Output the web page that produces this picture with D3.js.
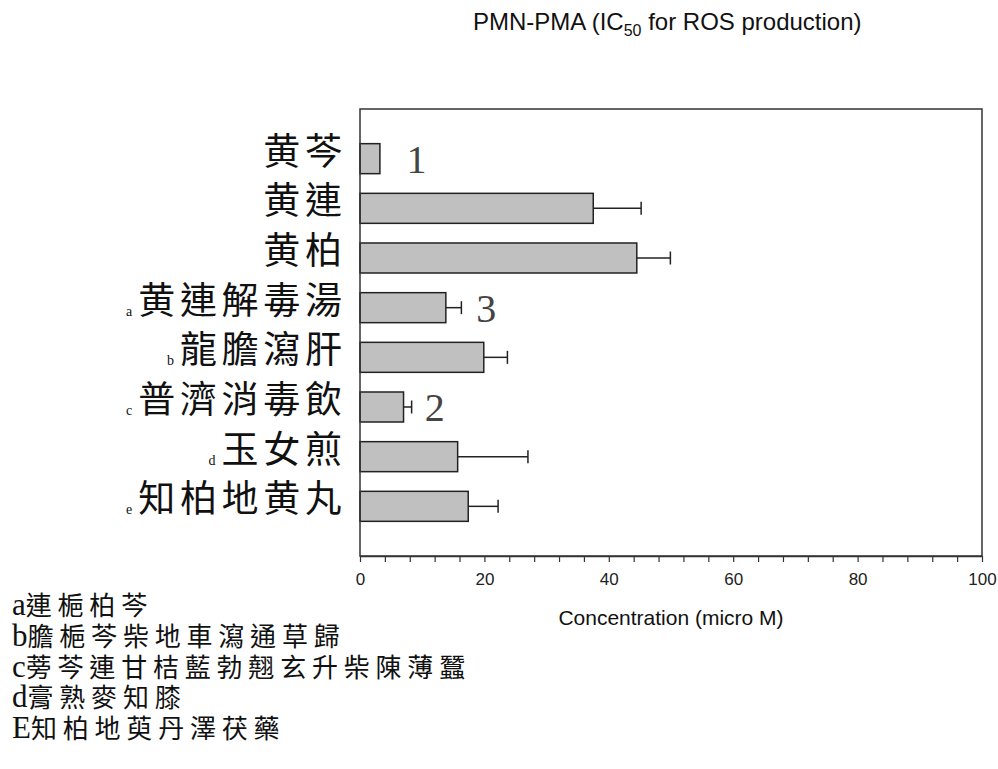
<!DOCTYPE html>
<html>
<head>
<meta charset="utf-8">
<script src="https://cdn.jsdelivr.net/npm/d3@7"></script>
<style>
  html, body { margin: 0; padding: 0; background: #fff; }
  svg { display: block; }
</style>
</head>
<body>
<svg id="chart" width="998" height="769"></svg>
<script>
// ---- data ----
const categories = ["黄芩", "黄連", "黄柏", "黄連解毒湯", "龍膽瀉肝", "普濟消毒飲", "玉女煎", "知柏地黄丸"];
const prefixes   = ["", "", "", "a", "b", "c", "d", "e"];
const ic50       = [3.2, 37.5, 44.5, 13.8, 19.9, 7.0, 15.7, 17.4];
const sd         = [null, 7.7, 5.4, 2.5, 3.8, 1.3, 11.3, 4.8];
const rankLabels = ["1", "3", "2"];
const rankCats   = ["黄芩", "黄連解毒湯", "普濟消毒飲"];
const rankAt     = [9.1, 20.3, 12.0];
const xTicks     = [0, 20, 40, 60, 80, 100];
const footLetters = ["a", "b", "c", "d", "E"];
const footTexts   = ["連梔柏芩", "膽梔芩柴地車瀉通草歸", "蒡芩連甘桔藍勃翹玄升柴陳薄蠶", "膏熟麥知膝", "知柏地萸丹澤茯藥"];
const titleMain = "PMN-PMA (IC";
const titleSub  = "50";
const titleEnd  = " for ROS production)";
const xTitle    = "Concentration (micro M)";

// ---- layout ----
const svg = d3.select("#chart");
const pL = 360, pR = 982, pT = 109, pB = 556;
const ink = "#333";
const cjk = "'Noto Sans CJK TC','Noto Sans CJK JP',sans-serif";
const serif = "'Liberation Serif','DejaVu Serif',serif";
const sans = "'Liberation Sans',Arial,sans-serif";

const x = d3.scaleLinear().domain([0, 100]).range([pL, pR]);
const y = d3.scalePoint().domain(["_top", ...categories, "_bottom"]).range([pT, pB]);
const barH = 30;

// title
const t = svg.append("text").attr("x", 473).attr("y", 30)
  .attr("font-family", sans).attr("font-size", 24).attr("fill", "#111");
t.append("tspan").text(titleMain);
t.append("tspan").attr("font-size", 16).attr("dy", 6).text(titleSub);
t.append("tspan").attr("dy", -6).text(titleEnd);

// bars
const rows = categories.map((c, i) => ({c, p: prefixes[i], v: ic50[i], e: sd[i]}));
svg.append("g").selectAll("rect").data(rows).join("rect")
  .attr("x", x(0)).attr("y", d => y(d.c) - barH / 2)
  .attr("width", d => x(d.v) - x(0)).attr("height", barH)
  .attr("fill", "#c0c0c0").attr("stroke", "#222").attr("stroke-width", 1.5);

// error bars
const eg = svg.append("g").attr("stroke", "#222").attr("stroke-width", 1.5);
rows.filter(d => d.e != null).forEach(d => {
  const cy = y(d.c);
  eg.append("line").attr("x1", x(d.v)).attr("x2", x(d.v + d.e)).attr("y1", cy).attr("y2", cy);
  eg.append("line").attr("x1", x(d.v + d.e)).attr("x2", x(d.v + d.e)).attr("y1", cy - 6.5).attr("y2", cy + 6.5);
});

// frame
svg.append("rect").attr("x", pL).attr("y", pT).attr("width", pR - pL).attr("height", pB - pT)
  .attr("fill", "none").attr("stroke", ink).attr("stroke-width", 1.5);

// x axis
const axis = d3.axisBottom(x).tickValues(d3.range(0, 101, 4))
  .tickFormat(d => xTicks.includes(d) ? d : "").tickSize(6).tickSizeOuter(0);
const ag = svg.append("g").attr("transform", `translate(0,${pB})`).call(axis);
ag.select(".domain").attr("stroke", ink).attr("stroke-width", 1.5);
ag.selectAll(".tick line").attr("stroke", ink).attr("stroke-width", 1.2);
ag.selectAll(".tick text").attr("font-family", sans).attr("font-size", 17).attr("fill", "#222").attr("dy", "1.2em");

svg.append("text").attr("x", (pL + pR) / 2).attr("y", 625).attr("text-anchor", "middle")
  .attr("font-family", sans).attr("font-size", 21).attr("fill", "#111").text(xTitle);

// y labels
const ls = 4.7;
const yl = svg.append("g");
rows.forEach(d => {
  const tx = yl.append("text").attr("x", pL - 18 + ls).attr("y", y(d.c) + 6)
    .attr("text-anchor", "end").attr("fill", "#111");
  if (d.p) tx.append("tspan").attr("font-family", serif).attr("font-size", 14)
    .attr("letter-spacing", 6).attr("dy", 2).text(d.p);
  tx.append("tspan").attr("font-family", cjk).attr("font-size", 37).attr("letter-spacing", ls)
    .attr("dy", d.p ? -2 : 0).text(d.c);
});

// rank annotations
rankLabels.forEach((r, i) => {
  svg.append("text").attr("x", x(rankAt[i])).attr("y", y(rankCats[i]) + 14)
    .attr("text-anchor", "middle").attr("font-family", serif).attr("font-size", 40)
    .attr("fill", "#444").text(r);
});

// footnotes
footLetters.forEach((l, i) => {
  const tx = svg.append("text").attr("x", 12).attr("y", 615 + i * 30.8).attr("fill", "#111");
  tx.append("tspan").attr("font-family", serif).attr("font-size", 31).text(l);
  tx.append("tspan").attr("font-family", cjk).attr("font-size", 26).attr("letter-spacing", 5.8).text(footTexts[i]);
});
</script>
</body>
</html>
